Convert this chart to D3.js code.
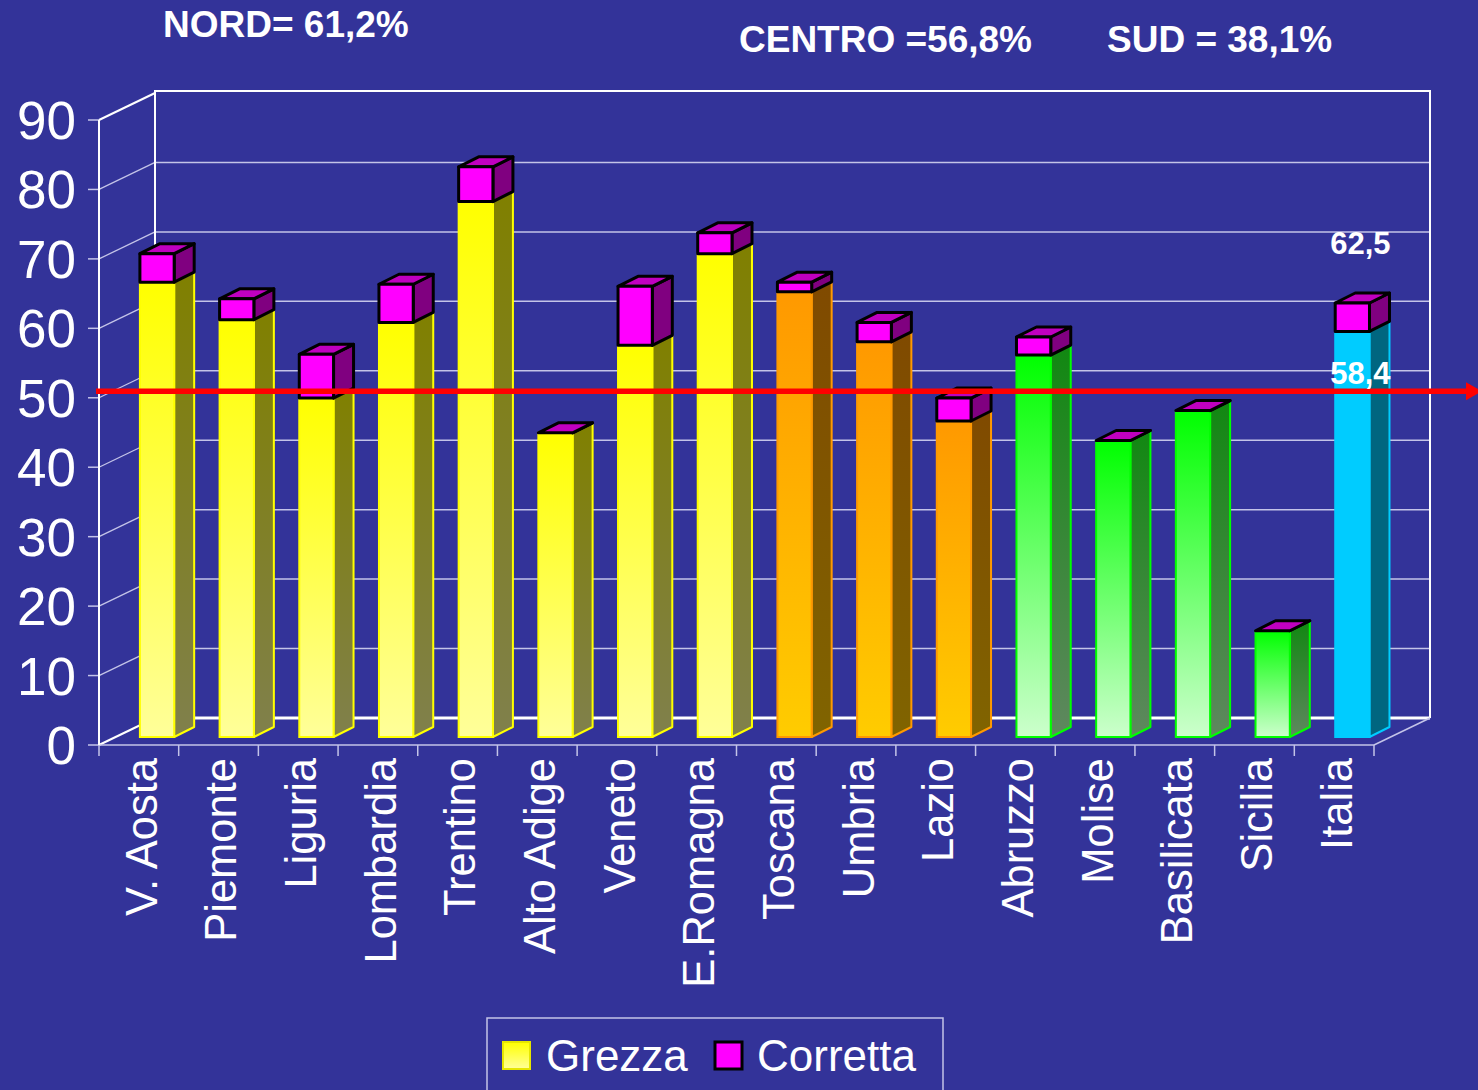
<!DOCTYPE html>
<html><head><meta charset="utf-8">
<script src="https://cdn.jsdelivr.net/npm/d3@7"></script>
<style>html,body{margin:0;padding:0;background:#333399;}svg{display:block;}</style>
</head><body>
<script>
const categories = ["V. Aosta","Piemonte","Liguria","Lombardia","Trentino","Alto Adige","Veneto","E.Romagna","Toscana","Umbria","Lazio","Abruzzo","Molise","Basilicata","Sicilia","Italia"];
const grezza   = [65.5, 60.1, 48.8, 59.7, 77.1, 43.8, 56.4, 69.6, 64.1, 56.9, 45.5, 55.0, 42.7, 47.0, 15.3, 58.4];
const corretta = [69.6, 63.1, 55.1, 65.2, 82.1, 43.8, 64.9, 72.6, 65.5, 59.7, 48.8, 57.6, 42.7, 47.0, 15.3, 62.5];
const areas    = ["N","N","N","N","N","N","N","N","C","C","C","S","S","S","S","I"];
const yTicks = [0,10,20,30,40,50,60,70,80,90];
const titles = [{t:"NORD= 61,2%", x:163, y:37},{t:"CENTRO =56,8%", x:739, y:52},{t:"SUD = 38,1%", x:1107, y:52}];
const italiaLabels = [{t:"62,5", v:62.5, dy:-49},{t:"58,4", v:58.4, dy:53}];
const refValue = 50;
const legendItems = [{name:"Grezza", key:"g"},{name:"Corretta", key:"c"}];

const W=1478,H=1090;
const svg=d3.select("body").append("svg").attr("width",W).attr("height",H);
svg.append("rect").attr("width",W).attr("height",H).attr("fill","#333399");
const FONT="'Liberation Sans', Arial, sans-serif";

const palette = {
  N:{top:"#ffff00",bot:"#ffff99",sTop:"#808000",sBot:"#80804c",edge:"#ffff00"},
  C:{top:"#ff9900",bot:"#ffcc00",sTop:"#804a00",sBot:"#806400",edge:"#ff9900"},
  S:{top:"#00ff00",bot:"#ccffcc",sTop:"#118811",sBot:"#5f885f",edge:"#00ff00"},
  I:{top:"#00ccff",bot:"#00ccff",sTop:"#006680",sBot:"#006680",edge:"#00ccff"}
};
const defs=svg.append("defs");
Object.entries(palette).forEach(([k,p])=>{
  const g=defs.append("linearGradient").attr("id","f"+k).attr("x1",0).attr("y1",0).attr("x2",0).attr("y2",1);
  g.append("stop").attr("offset","0%").attr("stop-color",p.top);
  g.append("stop").attr("offset","100%").attr("stop-color",p.bot);
  const s=defs.append("linearGradient").attr("id","s"+k).attr("x1",0).attr("y1",0).attr("x2",0).attr("y2",1);
  s.append("stop").attr("offset","0%").attr("stop-color",p.sTop);
  s.append("stop").attr("offset","100%").attr("stop-color",p.sBot);
});

// geometry
const yF=d3.scaleLinear().domain([0,90]).range([745,120]);
const x=d3.scaleBand().domain(categories).range([99,1374]).padding(0);
const DX=56, DY=-27;          // full depth offset
const BF={dx:17,dy:-8};       // bar front plane offset
const BD={dx:20,dy:-10};      // bar depth
const yB=v=>yF(v)+BF.dy;

const grid=svg.append("g");
yTicks.forEach(v=>{
  if(v>0 && v<90){
    grid.append("line").attr("x1",99+DX).attr("x2",1374+DX).attr("y1",yF(v)+DY).attr("y2",yF(v)+DY)
      .attr("stroke","#c4c4e8").attr("stroke-width",1.5);
  }
  if(v>0){
    grid.append("line").attr("x1",99).attr("y1",yF(v)).attr("x2",99+DX).attr("y2",yF(v)+DY)
      .attr("stroke", v===90?"#ffffff":"#c4c4e8").attr("stroke-width",v===90?2:1.3);
  }
  grid.append("line").attr("x1",88).attr("x2",99).attr("y1",yF(v)).attr("y2",yF(v))
    .attr("stroke","#c4c4e8").attr("stroke-width",1.5);
});
grid.append("path").attr("d",`M${99+DX},${yF(0)+DY}V${yF(90)+DY-2}H${1374+DX}V${yF(0)+DY}`)
  .attr("fill","none").attr("stroke","#ffffff").attr("stroke-width",2);
grid.append("line").attr("x1",99+DX).attr("x2",1374+DX).attr("y1",yF(0)+DY).attr("y2",yF(0)+DY)
  .attr("stroke","#ffffff").attr("stroke-width",3);
grid.append("line").attr("x1",99).attr("y1",yF(0)).attr("x2",99+DX).attr("y2",yF(0)+DY)
  .attr("stroke","#ffffff").attr("stroke-width",2);
grid.append("line").attr("x1",1374).attr("y1",yF(0)).attr("x2",1374+DX).attr("y2",yF(0)+DY)
  .attr("stroke","#c4c4e8").attr("stroke-width",1.5);
grid.append("line").attr("x1",99).attr("x2",1374).attr("y1",yF(0)).attr("y2",yF(0))
  .attr("stroke","#c4c4e8").attr("stroke-width",1.5);
grid.append("line").attr("x1",99).attr("x2",99).attr("y1",yF(90)).attr("y2",yF(0))
  .attr("stroke","#ffffff").attr("stroke-width",2);
categories.concat(["_end"]).forEach((c,i)=>{
  const xx = i<categories.length ? x(c) : 1374;
  grid.append("line").attr("x1",xx).attr("x2",xx).attr("y1",yF(0)).attr("y2",yF(0)+11)
    .attr("stroke","#c4c4e8").attr("stroke-width",1.5);
});

svg.append("g").selectAll("text").data(yTicks).join("text")
  .attr("x",76).attr("y",d=>yF(d)+19).attr("text-anchor","end")
  .attr("font-family",FONT).attr("font-size",53).attr("fill","#ffffff").text(d=>d);

const bars=svg.append("g");
categories.forEach((c,i)=>{
  const p=palette[areas[i]];
  const bw=x.bandwidth()*0.43;
  const x0=x(c)+x.bandwidth()*0.3+BF.dx;
  const x1=x0+bw;
  const g=grezza[i], cr=corretta[i];
  const y0=yB(0), yg=yB(g), yc=yB(cr);
  bars.append("path").attr("d",`M${x1},${yg}L${x1+BD.dx},${yg+BD.dy}L${x1+BD.dx},${y0+BD.dy}L${x1},${y0}Z`)
    .attr("fill",`url(#s${areas[i]})`).attr("stroke",p.edge).attr("stroke-width",2).attr("stroke-linejoin","round");
  bars.append("rect").attr("x",x0).attr("y",yg).attr("width",bw).attr("height",y0-yg)
    .attr("fill",`url(#f${areas[i]})`).attr("stroke",p.edge).attr("stroke-width",2);
  const bx=bars.append("g").attr("stroke","#000000").attr("stroke-width",3).attr("stroke-linejoin","round");
  bx.append("path").attr("d",`M${x1},${yc}L${x1+BD.dx},${yc+BD.dy}L${x1+BD.dx},${yg+BD.dy}L${x1},${yg}Z`).attr("fill","#800080");
  bx.append("path").attr("d",`M${x0},${yc}L${x0+BD.dx},${yc+BD.dy}L${x1+BD.dx},${yc+BD.dy}L${x1},${yc}Z`).attr("fill","#c000c0");
  bx.append("rect").attr("x",x0).attr("y",yc).attr("width",bw).attr("height",Math.max(0,yg-yc)).attr("fill","#ff00ff");
});

const yr=yB(refValue)+1.5;
svg.append("line").attr("x1",96).attr("x2",1468).attr("y1",yr).attr("y2",yr)
  .attr("stroke","#ff0000").attr("stroke-width",5.5);
svg.append("path").attr("d",`M1466,${yr-9}L1482,${yr}L1466,${yr+9}Z`).attr("fill","#ff0000");

const iIt=categories.indexOf("Italia");
const cxIt=x(categories[iIt])+x.bandwidth()*0.3+BF.dx+x.bandwidth()*0.43/2+8;
svg.append("g").selectAll("text").data(italiaLabels).join("text")
  .attr("x",cxIt).attr("y",d=>yB(d.v)+d.dy).attr("text-anchor","middle")
  .attr("font-family",FONT).attr("font-weight","bold").attr("font-size",31).attr("fill","#ffffff").text(d=>d.t);

svg.append("g").selectAll("text").data(categories).join("text")
  .attr("transform",d=>`translate(${x(d)+x.bandwidth()/2+2},758) rotate(-90)`)
  .attr("dy","0.36em").attr("text-anchor","end")
  .attr("font-family",FONT).attr("font-size",43.5).attr("fill","#ffffff").text(d=>d);

svg.append("g").selectAll("text").data(titles).join("text")
  .attr("x",d=>d.x).attr("y",d=>d.y)
  .attr("font-family",FONT).attr("font-weight","bold").attr("font-size",37).attr("fill","#ffffff").text(d=>d.t);

const lg=svg.append("g");
lg.append("rect").attr("x",487).attr("y",1018).attr("width",456).attr("height",100)
  .attr("fill","none").attr("stroke","#c4c4e8").attr("stroke-width",1.5);
const lx=[503,715], tx=[546,757];
legendItems.forEach((d,i)=>{
  lg.append("rect").attr("x",lx[i]).attr("y",1042).attr("width",27).attr("height",27)
    .attr("fill",d.key==="g"?"url(#fN)":"#ff00ff")
    .attr("stroke",d.key==="g"?"#e6e600":"#000000").attr("stroke-width",d.key==="g"?2:3);
  lg.append("text").attr("x",tx[i]).attr("y",1071).attr("font-family",FONT).attr("font-size",44)
    .attr("fill","#ffffff").text(d.name);
});
</script>
</body></html>
